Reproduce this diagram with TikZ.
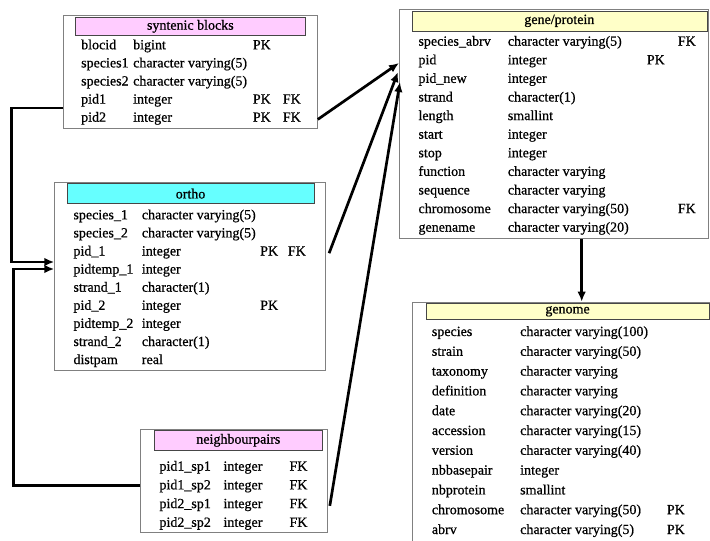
\documentclass[tikz,border=0pt]{standalone}
\usepackage{fontspec}
\setmainfont{Liberation Serif}
\newfontfamily\tablefam{Liberation Serif}[FakeBold=0.7]
\usetikzlibrary{calc,arrows.meta}

\definecolor{pinkhead}{RGB}{255,204,255}
\definecolor{cyanhead}{RGB}{102,255,255}
\definecolor{yellowhead}{RGB}{255,255,200}
\definecolor{boxgray}{RGB}{128,128,128}
\definecolor{headgray}{RGB}{70,70,70}
\newcommand\fieldfont{\tablefam\fontsize{14}{16}\selectfont}

\tikzset{
  tablebox/.style={draw=boxgray, line width=0.8pt, anchor=north west, inner sep=0pt},
  tablehead/.style={draw=headgray, line width=0.7pt, anchor=north west, inner sep=0pt, font=\fieldfont},
  fieldtxt/.style={anchor=base west, inner sep=0pt, font=\fieldfont},
  relarrow/.style={-{Latex[length=10pt,width=8.5pt]}, line width=2.7pt},
}

\begin{document}
\begin{tikzpicture}[x=1pt,y=-1pt]
\clip (0,0) rectangle (710,541);

  %% syntenic blocks
  \node[tablebox, minimum width=254pt, minimum height=113pt] (syn) at (63,15) {};
  \node[tablehead, fill=pinkhead, minimum width=230pt, minimum height=18pt] (synhead) at (75,17) {syntenic blocks};
  \foreach \nm/\ty/\pk/\fk [count=\i] in {blocid/bigint/PK/{}, species1/{character varying(5)}/{}/{}, species2/{character varying(5)}/{}/{}, pid1/integer/PK/FK, pid2/integer/PK/FK}{
    \node[fieldtxt] (syn-n\i) at (81,{49.3+(\i-1)*18.1}) {\nm};
    \node[fieldtxt] (syn-t\i) at (133,{49.3+(\i-1)*18.1}) {\ty};
    \node[fieldtxt] (syn-p\i) at (252.7,{49.3+(\i-1)*18.1}) {\pk};
    \node[fieldtxt] (syn-f\i) at (282.7,{49.3+(\i-1)*18.1}) {\fk};
  }

  %% gene/protein
  \node[tablebox, minimum width=309pt, minimum height=229pt] (gene) at (399,9) {};
  \node[tablehead, fill=yellowhead, minimum width=295pt, minimum height=20pt] (genehead) at (411.5,10.5) {gene/protein};
  \foreach \nm/\ty/\pk/\fk [count=\i] in {species\_abrv/{character varying(5)}/{}/FK, pid/integer/PK/{}, pid\_new/integer/{}/{}, strand/{character(1)}/{}/{}, length/smallint/{}/{}, start/integer/{}/{}, stop/integer/{}/{}, function/{character varying}/{}/{}, sequence/{character varying}/{}/{}, chromosome/{character varying(50)}/{}/FK, genename/{character varying(20)}/{}/{}}{
    \node[fieldtxt] (gene-n\i) at (418.3,{45.7+(\i-1)*18.6}) {\nm};
    \node[fieldtxt] (gene-t\i) at (507.7,{45.7+(\i-1)*18.6}) {\ty};
    \node[fieldtxt] (gene-p\i) at (646.7,{45.7+(\i-1)*18.6}) {\pk};
    \node[fieldtxt] (gene-f\i) at (677.7,{45.7+(\i-1)*18.6}) {\fk};
  }

  %% ortho
  \node[tablebox, minimum width=271pt, minimum height=188pt] (ortho) at (54.3,182.3) {};
  \node[tablehead, fill=cyanhead, minimum width=247pt, minimum height=20pt] (orthohead) at (66.7,183.3) {ortho};
  \foreach \nm/\ty/\pk/\fk [count=\i] in {species\_1/{character varying(5)}/{}/{}, species\_2/{character varying(5)}/{}/{}, pid\_1/integer/PK/FK, pidtemp\_1/integer/{}/{}, strand\_1/{character(1)}/{}/{}, pid\_2/integer/PK/{}, pidtemp\_2/integer/{}/{}, strand\_2/{character(1)}/{}/{}, distpam/real/{}/{}}{
    \node[fieldtxt] (ortho-n\i) at (73.3,{219.3+(\i-1)*18.1}) {\nm};
    \node[fieldtxt] (ortho-t\i) at (141.7,{219.3+(\i-1)*18.1}) {\ty};
    \node[fieldtxt] (ortho-p\i) at (260,{219.3+(\i-1)*18.1}) {\pk};
    \node[fieldtxt] (ortho-f\i) at (287.7,{219.3+(\i-1)*18.1}) {\fk};
  }

  %% neighbourpairs
  \node[tablebox, minimum width=187pt, minimum height=103pt] (nbr) at (140,429) {};
  \node[tablehead, fill=pinkhead, minimum width=168pt, minimum height=20pt] (nbrhead) at (154,430) {neighbourpairs};
  \foreach \nm/\ty/\fk [count=\i] in {pid1\_sp1/integer/FK, pid1\_sp2/integer/FK, pid2\_sp1/integer/FK, pid2\_sp2/integer/FK}{
    \node[fieldtxt] (nbr-n\i) at (159.3,{470.7+(\i-1)*18.7}) {\nm};
    \node[fieldtxt] (nbr-t\i) at (223.3,{470.7+(\i-1)*18.7}) {\ty};
    \node[fieldtxt] (nbr-f\i) at (289.3,{470.7+(\i-1)*18.7}) {\fk};
  }

  %% genome
  \node[tablebox, minimum width=310pt, minimum height=250pt] (genome) at (412,301.7) {};
  \node[tablehead, fill=yellowhead, minimum width=283pt, minimum height=16pt] (genomehead) at (425.7,303) {genome};
  \foreach \nm/\ty/\pk [count=\i] in {species/{character varying(100)}/{}, strain/{character varying(50)}/{}, taxonomy/{character varying}/{}, definition/{character varying}/{}, date/{character varying(20)}/{}, accession/{character varying(15)}/{}, version/{character varying(40)}/{}, nbbasepair/integer/{}, nbprotein/smallint/{}, chromosome/{character varying(50)}/PK, abrv/{character varying(5)}/PK}{
    \node[fieldtxt] (genome-n\i) at (431.7,{336+(\i-1)*19.8}) {\nm};
    \node[fieldtxt] (genome-t\i) at (520,{336+(\i-1)*19.8}) {\ty};
    \node[fieldtxt] (genome-p\i) at (666.7,{336+(\i-1)*19.8}) {\pk};
  }

  %% relazioni
  \coordinate (gin1) at (399,63);
  \coordinate (gin2) at (398,72);
  \coordinate (gin3) at (400,82);
  \draw[relarrow] (syn.east |- syn-n5.mid) -- (gin1);
  \draw[relarrow] ([xshift=3pt]ortho.east |- ortho-n3.mid) -- (gin2);
  \draw[relarrow] ([xshift=2pt]nbr.east |- nbr-n3.mid) -- (gin3);
  \draw[relarrow] (581.7,0 |- gene.south) -- (581.7,0 |- genome.north);

  \draw[relarrow] (syn.west |- 0,108) -- (11.5,108) -- (11.5,262) -- (ortho.west |- 0,262);
  \draw[relarrow] (nbr.west |- 0,485.7) -- (13.5,485.7) -- (13.5,269) -- (ortho.west |- 0,269);
\end{tikzpicture}
\end{document}
